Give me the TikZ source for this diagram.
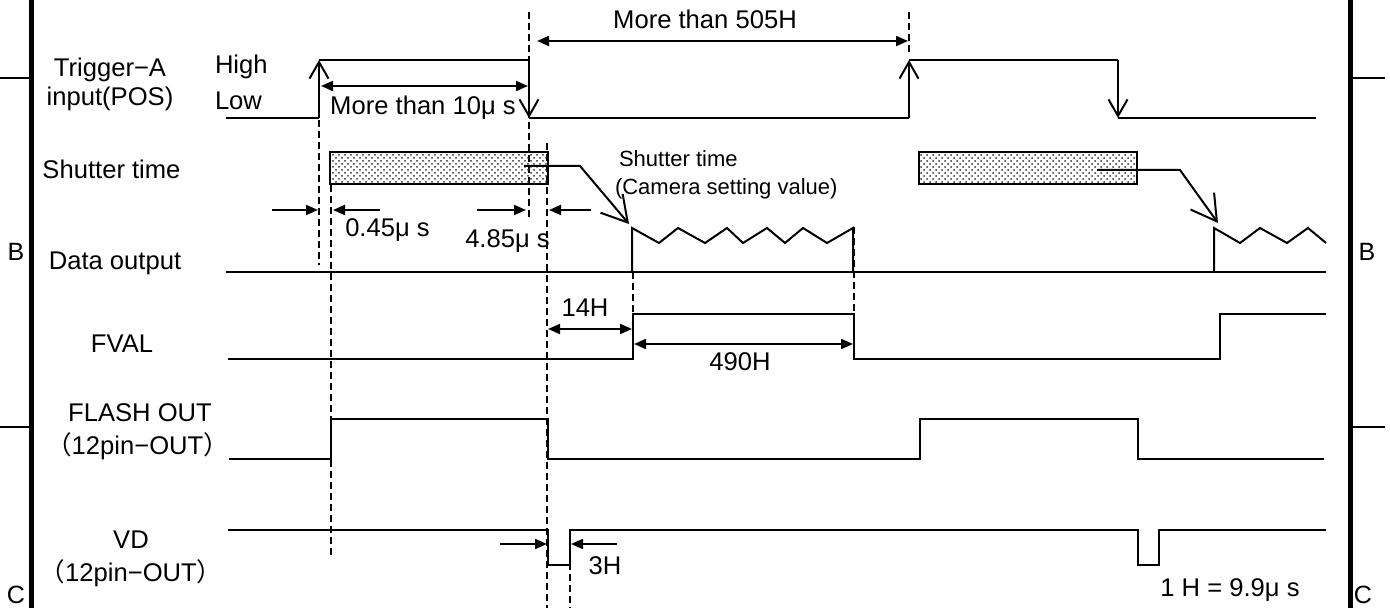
\documentclass[tikz,border=0pt]{standalone}
\usepackage{fontspec}
\setmainfont{Liberation Sans}
\newfontfamily\cjk{Noto Sans CJK JP}
\usetikzlibrary{arrows.meta,patterns}
\begin{document}
\begin{tikzpicture}[x=0.5pt,y=-0.5pt, line width=1pt,
  guide/.style={line width=1pt, dash pattern=on 3.5pt off 2pt},
  barb/.style={-{Straight Barb[length=8.3pt,width=9.5pt]}},
  leader/.style={-{Straight Barb[length=12.5pt,width=14.5pt]}},
  dim/.style={{Triangle[length=6pt,width=5pt]}-{Triangle[length=6pt,width=5pt]}},
  dimr/.style={-{Triangle[length=6pt,width=5pt]}},
  lab/.style={font=\fontsize{12.8}{15}\selectfont, inner sep=0pt},
  small/.style={font=\fontsize{11}{13}\selectfont, inner sep=0pt},
  zone/.style={font=\fontsize{12.5}{14}\selectfont, inner sep=0pt},
  border/.style={line width=2.5pt},
  tick/.style={line width=0.7pt},
  shut/.style={draw, line width=1pt, pattern=crosshatch dots, pattern color=black!80}]

\useasboundingbox (0,0) rectangle (1390,608);

% frame
\draw[border] (31,0) -- (31,608);
\draw[border] (1350,0) -- (1350,608);
\draw[tick] (0,78) -- (31,78);
\draw[tick] (0,427) -- (31,427);
\draw[tick] (1350,78) -- (1385,78);
\draw[tick] (1350,427) -- (1385,427);
\node[zone] (bl) at (16,252) {B};
\node[zone] (br) at (1367,252) {B};
\node[zone] (cl) at (16,595) {C};
\node[zone] (cr) at (1363,595) {C};

% row labels
\node[lab] (trg) at (110,69.5) {Trigger−A};
\node[lab] (inp) at (110,99) {input(POS)};
\node[lab, anchor=west] (hi) at (214,66.5) {High};
\node[lab, anchor=west] (lo) at (214,101) {Low};
\node[lab] (sht) at (111.5,169) {Shutter time};
\node[lab] (dat) at (115,263) {Data output};
\node[lab] (fv) at (122,344) {FVAL};
\node[lab] (fl) at (140,413) {FLASH OUT};
\node[lab] (fl2) at (137.5,446) {{\cjk （}12pin−OUT{\cjk ）}};
\node[lab] (vd) at (131,540) {VD};
\node[lab] (vd2) at (131,573) {{\cjk （}12pin−OUT{\cjk ）}};

% dashed guides
\draw[guide] (319,120) -- (319,265);
\draw[guide] (331,185) -- (331,555);
\draw[guide] (529,12) -- (529,220);
\draw[guide] (547,143) -- (547,608);
\draw[guide] (570,530) -- (570,608);
\draw[guide] (909,12) -- (909,55);
\draw[guide] (633,272) -- (633,314);
\draw[guide] (854,227) -- (854,359);

% Trigger-A
\draw (226,118) -- (319,118);
\draw[barb] (319,118) -- (319,60);
\draw (319,60) -- (529,60);
\draw[barb] (529,60) -- (529,118);
\draw (529,118) -- (909,118);
\draw[barb] (909,118) -- (909,60);
\draw (909,60) -- (1118,60);
\draw[barb] (1118,60) -- (1118,118);
\draw (1118,118) -- (1316,118);

% shutter boxes
\draw[shut] (330,152) rectangle (548,184);
\draw[shut] (919,152) rectangle (1137,184);
\draw[leader] (524,166) -- (580,166) -- (629,224);
\draw[leader] (1097,170) -- (1180,170) -- (1218,223);
\node[small, anchor=west] (st1) at (618,158.5) {Shutter time};
\node[small, anchor=west] (st2) at (614,189) {(Camera setting value)};

% Data output
\draw (226,272) -- (1326,272);
\draw (632,272) -- (632,228) -- (659,243) -- (678,228) -- (705,243) -- (727,228) -- (743,243) -- (767,228) -- (785,243) -- (803,228) -- (827,243) -- (853,228) -- (853,272);
\draw (1214,272) -- (1214,228) -- (1240,243) -- (1260,228) -- (1287,243) -- (1308,228) -- (1326,243);

% FVAL
\draw (228,359) -- (633,359) -- (633,314) -- (854,314) -- (854,359) -- (1220,359) -- (1220,314) -- (1326,314);

% FLASH OUT
\draw (229,459) -- (331,459) -- (331,419) -- (548,419) -- (548,459) -- (920,459) -- (920,419) -- (1138,419) -- (1138,459) -- (1324,459);

% VD
\draw (228,530) -- (548,530) -- (548,565) -- (570,565) -- (570,530) -- (1138,530) -- (1138,565) -- (1159,565) -- (1159,530) -- (1326,530);

% dimensions
\draw[dim] (537,41) -- (908,41);
\node[lab] (m505) at (705,19) {More than 505H};
\draw[dim] (321,86) -- (528,86);
\node[lab] (m10) at (423,107.5) {More than 10μ s};
\draw[dimr] (272,210) -- (318,210);
\draw[dimr] (380,210) -- (333,210);
\node[lab] (d045) at (387.5,230) {0.45μ s};
\draw[dimr] (477,210) -- (526,210);
\draw[dimr] (591,210) -- (549,210);
\node[lab] (d485) at (507.5,241) {4.85μ s};
\draw[dim] (548,329) -- (632,329);
\node[lab] (d14) at (585,308) {14H};
\draw[dim] (634,344) -- (853,344);
\node[lab] (d490) at (740,362) {490H};
\draw[dimr] (500,544) -- (547,544);
\draw[dimr] (617,544) -- (571,544);
\node[lab] (d3) at (605,566) {3H};
\node[lab] (oneh) at (1230,590) {1 H = 9.9μ s};
\end{tikzpicture}
\end{document}
